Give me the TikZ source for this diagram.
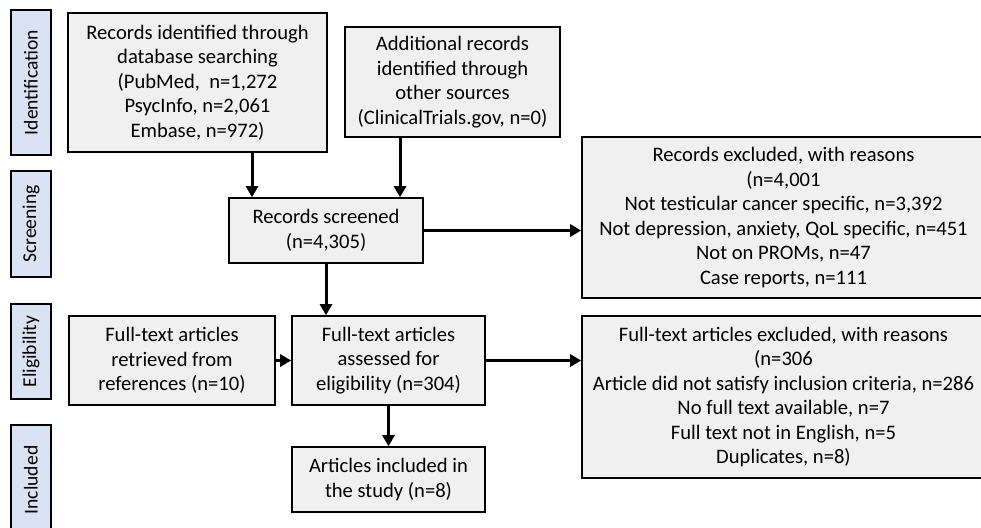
\documentclass[tikz,border=0pt]{standalone}
\usepackage{fontspec}
\setmainfont{Carlito}
\usetikzlibrary{arrows.meta}
\definecolor{boxgray}{RGB}{240,240,240}
\definecolor{phaseblue}{RGB}{218,227,243}
\tikzset{
    box/.style={draw=black, fill=boxgray, line width=1.6pt, align=center, inner sep=0pt,
        font=\fontsize{20.6}{24.5}\selectfont},
    phase/.style={draw=black, fill=phaseblue, line width=1.6pt, rotate=90, inner sep=0pt,
        minimum height=40pt, font=\fontsize{19.6}{23}\selectfont},
    flow/.style={line width=3pt, -{Triangle[length=11pt,width=12pt]}}
}
\begin{document}
\begin{tikzpicture}[x=1pt,y=-1pt]
    \useasboundingbox (0,0) rectangle (981,527);
    \foreach \name/\txt/\y/\len in {idf/Identification/82.5/145, scr/Screening/224/106,
        elg/Eligibility/351.5/95, inc/Included/480/110} {
        \node[phase, minimum width=\len pt] (\name) at (31,\y) {\txt};
    }

    \node[box, minimum width=259pt, minimum height=139pt] (db) at (197.5,82.5)
        {Records identified through\\ database searching\\ (PubMed,~ n=1,272\\ PsycInfo, n=2,061\\ Embase, n=972)};
    \node[box, minimum width=215pt, minimum height=110pt] (other) at (452.5,82)
        {Additional records\\ identified through\\ other sources\\ (ClinicalTrials.gov, n=0)};
    \node[box, minimum width=194pt, minimum height=65pt] (screened) at (326,230.5)
        {Records screened\\ (n=4,305)};
    \node[box, minimum width=403pt, minimum height=161pt] (excl) at (783.5,217.5)
        {Records excluded, with reasons\\ (n=4,001\\ Not testicular cancer specific, n=3,392\\
        Not depression, anxiety, QoL specific, n=451\\ Not on PROMs, n=47\\ Case reports, n=111};
    \node[box, minimum width=206pt, minimum height=89pt] (retrieved) at (172,360.5)
        {Full-text articles\\ retrieved from\\ references (n=10)};
    \node[box, minimum width=193pt, minimum height=89pt] (assessed) at (388.5,360.5)
        {Full-text articles\\ assessed for\\ eligibility (n=304)};
    \node[box, minimum width=403pt, minimum height=162pt] (excl2) at (783.5,397)
        {Full-text articles excluded, with reasons\\ (n=306\\ Article did not satisfy inclusion criteria, n=286\\
        No full text available, n=7\\ Full text not in English, n=5\\ Duplicates, n=8)};
    \node[box, minimum width=193pt, minimum height=65pt] (included) at (388.5,479.5)
        {Articles included in\\ the study (n=8)};

    \path ([xshift=-74pt]screened.north) coordinate (in1)
          ([xshift=74pt]screened.north) coordinate (in2);
    \draw[flow] (in1 |- db.south) -- (in1);
    \draw[flow] (in2 |- other.south) -- (in2);
    \draw[flow] (screened.east) -- (screened.east -| excl.west);
    \draw[flow] (screened.south) -- (screened.south |- assessed.north);
    \draw[flow] (retrieved.east) -- (assessed.west);
    \draw[flow] (assessed.east) -- (assessed.east -| excl2.west);
    \draw[flow] (assessed.south) -- (included.north);
\end{tikzpicture}
\end{document}
